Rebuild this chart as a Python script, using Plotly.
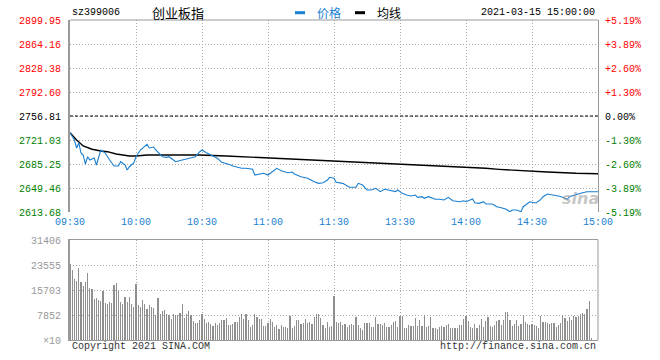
import plotly.graph_objects as go

W, H = 660, 360

# ---------------- data ----------------
stock_code = "sz399006"
stock_name = "创业板指"
timestamp = "2021-03-15 15:00:00"
prev_close = 2756.81

time_ticks = [0, 30, 60, 90, 120, 150, 180, 210, 240]
time_labels = ["09:30", "10:00", "10:30", "11:00", "11:30", "13:30", "14:00", "14:30", "15:00"]

price_ticks = [2613.68, 2649.46, 2685.25, 2721.03, 2756.81, 2792.60, 2828.38, 2864.16, 2899.95]
price_labels = ["2613.68", "2649.46", "2685.25", "2721.03", "2756.81", "2792.60", "2828.38", "2864.16", "2899.95"]
pct_labels = ["-5.19%", "-3.89%", "-2.60%", "-1.30%", "0.00%", "+1.30%", "+2.60%", "+3.89%", "+5.19%"]

vol_ticks = [0, 7852, 15703, 23555, 31406]
vol_labels = ["×10", "7852", "15703", "23555", "31406"]

# minute index (0 = 09:30, 120 = 11:30/13:00, 240 = 15:00) and price
price_minutes = [0, 2, 3, 4, 5, 6, 7, 8, 9, 11, 12, 13, 14, 16, 17, 18, 20, 22, 23, 25, 26, 27, 29, 30,
                 32, 33, 34, 35, 36, 38, 39, 41, 42, 44, 45, 47, 48, 51, 53, 55, 57, 59, 60, 62, 64, 67,
                 69, 71, 73, 74, 77, 78, 80, 83, 84, 86, 88, 90, 92, 94, 96, 99, 101, 102, 105, 108, 111,
                 113, 115, 117, 118, 120, 121, 124, 127, 130, 131, 133, 135, 137, 139, 141, 143, 145, 148,
                 149, 151, 153, 155, 157, 158, 160, 161, 163, 164, 166, 168, 170, 172, 174, 177, 179, 180,
                 183, 184, 186, 188, 189, 192, 194, 196, 198, 200, 201, 203, 205, 206, 208, 209, 211, 212,
                 214, 215, 217, 220, 222, 224, 226, 227, 229, 231, 233, 235, 237, 240]
price_values = [2731.9, 2721.0, 2709.1, 2716.6, 2701.6, 2698.7, 2685.2, 2696.1, 2691.2, 2694.2, 2683.8,
                2694.2, 2706.1, 2701.6, 2696.1, 2691.2, 2682.3, 2682.3, 2688.7, 2683.8, 2676.3, 2681.2,
                2686.7, 2696.1, 2706.1, 2709.1, 2710.6, 2714.6, 2709.1, 2710.6, 2706.1, 2698.7, 2696.1,
                2695.2, 2696.1, 2691.2, 2688.7, 2691.2, 2692.7, 2695.2, 2696.1, 2703.6, 2706.1, 2702.1,
                2698.7, 2693.7, 2687.8, 2686.3, 2683.8, 2682.3, 2680.3, 2678.8, 2678.8, 2677.3, 2668.8,
                2669.9, 2671.4, 2668.8, 2673.8, 2678.8, 2675.3, 2672.3, 2673.3, 2670.4, 2666.3, 2663.9,
                2658.9, 2656.4, 2657.4, 2661.4, 2665.4, 2663.9, 2657.9, 2656.4, 2650.5, 2650.5, 2656.4,
                2653.9, 2646.5, 2646.5, 2649.0, 2644.0, 2647.5, 2646.5, 2644.0, 2646.5, 2641.5, 2639.0,
                2637.5, 2639.0, 2635.6, 2636.5, 2634.1, 2636.5, 2635.0, 2632.6, 2632.6, 2631.6, 2635.6,
                2630.5, 2629.0, 2630.5, 2629.0, 2633.0, 2627.5, 2626.6, 2629.0, 2625.6, 2625.6, 2621.6,
                2620.1, 2618.1, 2614.1, 2616.6, 2616.6, 2614.1, 2621.6, 2627.5, 2629.0, 2627.5, 2627.5,
                2632.6, 2636.5, 2640.5, 2639.0, 2637.5, 2635.6, 2632.6, 2636.5, 2639.0, 2640.5, 2642.4,
                2643.9, 2643.9, 2643.9]

avg_minutes = [0, 3, 6, 10, 14, 17, 21, 27, 30, 35, 44, 59, 71, 84, 95, 105, 115, 125, 135, 142, 150,
               160, 168, 179, 189, 195, 206, 217, 230, 240]
avg_values = [2731.9, 2721.0, 2712.1, 2707.2, 2704.6, 2703.6, 2700.1, 2697.2, 2697.2, 2698.7, 2698.7,
              2698.7, 2697.2, 2695.2, 2693.2, 2692.6, 2690.2, 2689.3, 2687.8, 2686.3, 2685.2, 2683.8,
              2682.3, 2680.3, 2678.8, 2677.3, 2674.8, 2673.3, 2671.4, 2670.8]

# one volume bar per minute (minute 0 .. 240)
volume = [
    24000, 22000, 19200, 18600, 22700, 18300, 17000, 18300, 21100, 16300, 16000, 13000, 13300, 12700,
    12300, 15400, 11700, 11400, 11900, 11500, 17300, 18000, 15400, 12000, 11200, 13600, 12000, 13500,
    11300, 10400, 17500,
    11000, 10500, 12600, 11400, 9800, 11000, 10500, 10200,
    7850, 13300, 8270, 9110, 9420, 8270, 7850, 6490, 8060, 7850, 7850, 8380, 11200, 7010, 8060, 9110,
    7750, 5970, 5230, 5230, 6180,
    8060, 6490, 5230, 5650, 4920, 4400, 5230, 4710, 5230, 6280, 6180, 6800, 4710, 4710, 4920, 5650,
    5650, 7220, 8060, 6490, 8060, 6280, 4190, 4710, 8060, 7220, 6490, 6490, 4400, 4400, 5230,
    6490, 5650, 4190, 4710, 3350, 4710, 4080, 4080, 3870, 7540, 3660, 4400, 6280, 6280, 4920, 5230,
    6490, 5230, 5650, 4920, 7220, 8060, 8060, 7010, 4710, 3660, 5650, 4190, 4400,
    13800,
    5650, 5340, 5650, 4710, 4920, 4190, 4710, 4920, 4710, 7330, 4710, 3870, 3140, 5230, 5230, 5230,
    4190, 4190, 7220, 5130, 5130, 4710, 5230, 4190, 4190, 4610, 5650, 5970, 4190, 7540,
    7540, 3870, 3870, 4710, 4400, 4400, 7010, 4400, 6280, 4400, 7750, 4190, 4400, 7330, 3870, 3870,
    3560, 4190, 4400, 4190, 4710, 5130, 3870, 3870, 3870, 3870, 4710, 4610, 6490,
    7540, 5970, 4080, 3870, 5130, 3870, 4710, 6490, 4080, 5970, 7220, 4400, 4080, 4710, 5970, 6280,
    4710, 6280, 8790, 8790, 6280, 4400, 5130, 6280, 4400, 5130, 7850, 5650, 4920, 4710, 5130, 4710,
    4400, 3870, 7540, 5650, 5650, 5440, 5130, 5230, 5440, 4080, 4710, 5440, 7750, 7010, 5970, 7220,
    6280, 7540, 7220, 7540, 8060, 8380, 8060, 9840, 12250,
    600, 0, 0, 0,
]
volume_minutes = list(range(len(volume)))

# ---------------- styles ----------------
BLUE = "#1a7fd0"
RED = "#ff0000"
GREEN = "#008000"
GRID = "#aaaaaa"
FRAME = "#999999"
MONO = "Liberation Mono, DejaVu Sans Mono, monospace"
CJK = "Noto Sans CJK SC"


def lvl_color(v):
    if abs(v - prev_close) < 1e-6:
        return "#000000"
    return RED if v > prev_close else GREEN


price_ticktext = [f"<span style='color:{lvl_color(v)}'>{t}</span>" for v, t in zip(price_ticks, price_labels)]
pct_ticks = [(v / prev_close - 1) * 100 for v in price_ticks]
pct_ticktext = [f"<span style='color:{lvl_color(v)}'>{t}</span>" for v, t in zip(price_ticks, pct_labels)]

p_lo, p_hi = price_ticks[0], price_ticks[-1]
pct_range = [(p_lo / prev_close - 1) * 100, (p_hi / prev_close - 1) * 100]

x_dom = [70 / W, 598 / W]
y_price_dom = [1 - 212 / H, 1 - 20 / H]
y_vol_dom = [1 - 340 / H, 1 - 240 / H]

fig = go.Figure()

fig.add_trace(go.Bar(x=volume_minutes, y=volume, xaxis="x2", yaxis="y2", width=0.46,
                     marker=dict(color="#8f8f8f", line=dict(width=0)), hoverinfo="skip"))
fig.add_trace(go.Scatter(x=avg_minutes, y=avg_values, mode="lines", xaxis="x", yaxis="y",
                         line=dict(color="#000000", width=1.4), hoverinfo="skip"))
fig.add_trace(go.Scatter(x=price_minutes, y=price_values, mode="lines", xaxis="x", yaxis="y",
                         line=dict(color=BLUE, width=1.1), hoverinfo="skip"))
fig.add_trace(go.Scatter(x=[0], y=[0], mode="markers", xaxis="x", yaxis="y3",
                         marker=dict(opacity=0), hoverinfo="skip"))

grid_common = dict(showgrid=True, gridcolor=GRID, gridwidth=1, griddash="1px,2px", zeroline=False,
                   fixedrange=True, automargin=False)

fig.update_layout(
    width=W, height=H, autosize=False,
    margin=dict(l=0, r=0, t=0, b=0, pad=0),
    paper_bgcolor="white", plot_bgcolor="white",
    showlegend=False, bargap=0,
    xaxis=dict(domain=x_dom, range=[0, 240], anchor="y", tickmode="array", tickvals=time_ticks,
               ticktext=time_labels, tickfont=dict(family=MONO, size=10, color=BLUE), ticks="",
               ticklabelstandoff=2, showline=False, **grid_common),
    yaxis=dict(domain=y_price_dom, range=[p_lo, p_hi], anchor="x", tickmode="array", tickvals=price_ticks,
               ticktext=price_ticktext, tickfont=dict(family=MONO, size=10), ticks="",
               ticklabelstandoff=5, showline=True, linecolor=FRAME, linewidth=2, **grid_common),
    yaxis3=dict(overlaying="y", side="right", anchor="x", range=pct_range, tickmode="array",
                tickvals=pct_ticks, ticktext=pct_ticktext, tickfont=dict(family=MONO, size=10),
                ticks="", ticklabelstandoff=4, showline=True, linecolor=FRAME, linewidth=1,
                showgrid=False, zeroline=False, fixedrange=True, automargin=False),
    xaxis2=dict(domain=x_dom, range=[0, 240], anchor="y2", tickmode="array", tickvals=time_ticks,
                showticklabels=False, ticks="", showline=True, linecolor=FRAME, linewidth=1,
                mirror=True, **grid_common),
    yaxis2=dict(domain=y_vol_dom, range=[vol_ticks[0], vol_ticks[-1]], anchor="x2", tickmode="array",
                tickvals=vol_ticks, ticktext=vol_labels, tickfont=dict(family=MONO, size=10, color="#999999"),
                ticks="", ticklabelstandoff=5, showline=True, linecolor=FRAME, linewidth=2, mirror=False,
                **grid_common),
)

# frame top of price panel, right side of volume panel, previous-close dashed line
fig.add_shape(type="line", xref="x domain", yref="y domain", x0=0, x1=1, y0=1, y1=1,
              line=dict(color=FRAME, width=1))
fig.add_shape(type="line", xref="x2 domain", yref="y2 domain", x0=1, x1=1, y0=0, y1=1,
              line=dict(color=FRAME, width=1))
fig.add_shape(type="line", xref="x domain", yref="y", x0=0, x1=1, y0=prev_close, y1=prev_close,
              line=dict(color="#000000", width=1, dash="3px,2px"))

# header
fig.add_annotation(text=stock_code, xref="paper", yref="paper", x=70 / W, y=1 - 12.5 / H,
                   xanchor="left", yanchor="middle", showarrow=False,
                   font=dict(family=MONO, size=10, color="#000000"))
fig.add_annotation(text=stock_name, xref="paper", yref="paper", x=150 / W, y=1 - 12.5 / H,
                   xanchor="left", yanchor="middle", showarrow=False,
                   font=dict(family=CJK, size=13, color="#000000"))
fig.add_annotation(text=timestamp, xref="paper", yref="paper", x=597 / W, y=1 - 12.5 / H,
                   xanchor="right", yanchor="middle", showarrow=False,
                   font=dict(family=MONO, size=10, color="#000000"))

# legend
legend_items = [("价格", BLUE, 295), ("均线", "#000000", 355)]
for name, col, x0 in legend_items:
    fig.add_shape(type="line", xref="paper", yref="paper", x0=x0 / W, x1=(x0 + 10) / W,
                  y0=1 - 12.7 / H, y1=1 - 12.7 / H, line=dict(color=col, width=3))
    fig.add_annotation(text=name, xref="paper", yref="paper", x=(x0 + 20) / W, y=1 - 12.5 / H,
                       xanchor="left", yanchor="middle", showarrow=False,
                       font=dict(family=CJK, size=12, color=col))

# footer
fig.add_annotation(text="Copyright 2021 SINA.COM", xref="paper", yref="paper", x=70 / W, y=1 - 346.5 / H,
                   xanchor="left", yanchor="middle", showarrow=False,
                   font=dict(family=MONO, size=10, color="#333333"))
fig.add_annotation(text="http://finance.sina.com.cn", xref="paper", yref="paper", x=598 / W,
                   y=1 - 346.5 / H, xanchor="right", yanchor="middle", showarrow=False,
                   font=dict(family=MONO, size=10, color="#333333"))

# watermark
fig.add_annotation(text="<b><i>sina</i></b>", xref="paper", yref="paper", x=580 / W, y=1 - 198 / H,
                   xanchor="center", yanchor="middle", showarrow=False,
                   font=dict(family="DejaVu Sans", size=16, color="rgba(160,160,160,0.6)"))

fig.write_html("out.html", include_plotlyjs=True,
               config={"displayModeBar": False, "staticPlot": True},
               post_script="document.body.style.margin='0';document.body.style.padding='0';")
